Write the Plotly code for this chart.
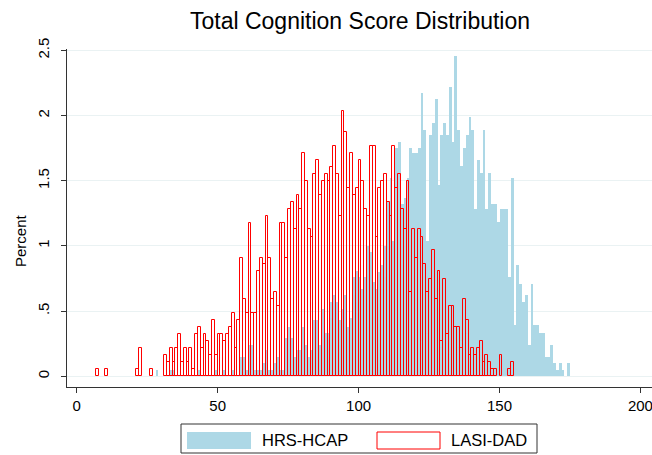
import plotly.graph_objects as go

# ---------------- data (percent of sample per 1-point score bin) ----------------
hrs_scores = [28, 33, 34, 43, 49, 52, 55,
              58, 59, 60, 61, 62, 63, 64, 65, 66, 67, 68, 69, 70, 71, 72, 73, 74, 75, 76, 77,
              78, 79, 80, 81, 82, 83, 84, 85, 86, 87, 88, 89, 90, 91, 92, 93, 94, 95, 96, 97,
              98, 99, 100, 101, 102, 103, 104, 105, 106, 107, 108, 109, 110, 111, 112, 113,
              114, 115, 116, 117, 118, 119, 120, 121, 122, 123, 124, 125, 126, 127, 128, 129,
              130, 131, 132, 133, 134, 135, 136, 137, 138, 139, 140, 141, 142, 143, 144, 145,
              146, 147, 148, 149, 150, 151, 152, 153, 154, 155, 156, 157, 158, 159, 160, 161,
              162, 163, 164, 165, 166, 167, 168, 169, 170, 171, 172, 174]
hrs_pct = [0.05, 0.05, 0.05, 0.05, 0.05, 0.05, 0.05,
           0.15, 0.15, 0.05, 0.24, 0.24, 0.05, 0.05, 0.05, 0.10, 0.20, 0.05, 0.05, 0.10, 0.15, 0.05, 0.05, 0.29, 0.38, 0.29, 0.15,
           0.20, 0.20, 0.38, 0.24, 0.15, 0.20, 0.43, 0.43, 0.24, 0.52, 0.33, 0.33, 0.57, 0.62, 0.57, 0.43, 0.52, 0.62, 0.38, 0.45,
           0.76, 0.81, 0.76, 0.67, 0.76, 1.00, 0.95, 0.72, 0.67, 0.80, 0.85, 1.00, 1.34, 1.52, 1.04, 1.75,
           1.80, 1.32, 1.37, 1.52, 1.75, 1.71, 1.71, 1.75, 2.17, 1.89, 1.04, 1.85, 1.94, 2.13, 1.47, 1.85,
           1.94, 1.85, 2.22, 1.80, 2.46, 1.89, 1.61, 1.75, 1.85, 1.99, 1.89, 1.28, 1.66, 1.56, 1.89, 1.28,
           1.56, 1.32, 1.32, 1.18, 1.28, 1.28, 1.28, 0.76, 1.52, 0.39, 0.85, 0.71, 0.57, 0.62, 0.24, 0.71,
           0.39, 0.39, 0.33, 0.33, 0.15, 0.15, 0.24, 0.10, 0.05, 0.10, 0.05, 0.10]

lasi_scores = [7, 10, 21, 22, 26,
               31, 32, 33, 34, 35, 36, 37, 38, 39, 40, 41, 42, 43, 44, 45, 46, 47, 48, 49, 50,
               51, 52, 53, 54, 55, 56, 57, 58, 59, 60, 61, 62, 63, 64, 65, 66, 67, 68, 69, 70,
               71, 72, 73, 74, 75, 76, 77, 78, 79, 80, 81, 82, 83, 84, 85, 86, 87, 88, 89, 90,
               91, 92, 93, 94, 95, 96, 97, 98, 99, 100, 101, 102, 103, 104, 105, 106, 107, 108,
               109, 110, 111, 112, 113, 114, 115, 116, 117, 118, 119, 120, 121, 122, 123, 124,
               125, 126, 127, 128, 129, 130, 131, 132, 133, 134, 135, 136, 137, 138, 139, 140,
               141, 142, 143, 144, 145, 146, 147, 148, 150, 153, 154]
lasi_pct = [0.054, 0.054, 0.054, 0.214, 0.054,
            0.161, 0.107, 0.214, 0.107, 0.214, 0.322, 0.107, 0.214, 0.107, 0.214, 0.054, 0.322, 0.375, 0.214, 0.322, 0.268, 0.161, 0.429, 0.161, 0.322,
            0.322, 0.268, 0.322, 0.375, 0.482, 0.214, 0.429, 0.911, 0.590, 0.482, 1.179, 0.482, 0.482, 0.804, 0.911, 0.858, 1.233, 0.911, 0.590, 0.643,
            0.536, 1.179, 1.179, 0.911, 1.286, 1.340, 1.126, 1.394, 1.286, 1.715, 1.501, 1.126, 1.072, 1.554, 1.662, 1.394, 1.501, 1.554, 1.501, 1.608,
            1.769, 1.554, 1.233, 2.037, 1.876, 1.447, 1.715, 1.394, 1.447, 1.662, 1.501, 1.286, 1.233, 1.769, 1.769, 1.072, 1.447, 1.501,
            1.554, 1.340, 1.233, 1.769, 1.447, 1.554, 1.286, 1.126, 1.501, 0.643, 1.126, 0.911, 1.126, 1.072, 0.858, 0.643,
            0.750, 0.965, 0.590, 0.804, 0.268, 0.750, 0.322, 0.536, 0.536, 0.375, 0.375, 0.214, 0.590, 0.429, 0.161, 0.214,
            0.161, 0.214, 0.268, 0.107, 0.161, 0.107, 0.054, 0.054, 0.161, 0.054, 0.107]

series_names = ["HRS-HCAP", "LASI-DAD"]
x_ticks = [0, 50, 100, 150, 200]
y_ticks = [0, 0.5, 1, 1.5, 2, 2.5]
y_tick_labels = ["0", ".5", "1", "1.5", "2", "2.5"]

# ---------------- figure ----------------
FONT = "Liberation Sans, Arial, Helvetica, sans-serif"
BLUE = "#ADD8E6"
RED = "#FF0000"
AX = "#333333"

fig = go.Figure()
fig.add_trace(go.Bar(x=hrs_scores, y=hrs_pct, width=1, offset=0, name=series_names[0],
                     marker=dict(color=BLUE, line=dict(width=0)), showlegend=False))
fig.add_trace(go.Bar(x=lasi_scores, y=lasi_pct, width=1, offset=0, name=series_names[1],
                     marker=dict(color="rgba(255,255,255,0)", line=dict(color=RED, width=1)),
                     showlegend=False))

W, H = 652, 455
L, R, T, B = 67, 0, 49, 68
pw, ph = W - L - R, H - T - B


def px(x):
    return (x - L) / pw


def py(y):
    return (H - B - y) / ph


fig.update_layout(
    width=W, height=H, autosize=False,
    margin=dict(l=L, r=R, t=T, b=B, pad=0, autoexpand=False),
    barmode="overlay", bargap=0,
    plot_bgcolor="white", paper_bgcolor="white",
    font=dict(family=FONT, color="black", size=15),
    xaxis=dict(range=[-3.45, 204.1], tickvals=x_ticks, ticks="outside", ticklen=5,
               tickcolor=AX, tickwidth=1.2, showline=True, linecolor=AX, linewidth=1.2,
               showgrid=False, zeroline=False, tickfont=dict(size=15), automargin=False,
               ticklabeloverflow="allow"),
    yaxis=dict(range=[-0.082, 2.51], tickvals=y_ticks, ticktext=y_tick_labels,
               tickangle=-90, ticks="outside", ticklen=5, tickcolor=AX, tickwidth=1.2,
               showline=True, linecolor=AX, linewidth=1.2, showgrid=True,
               gridcolor="#EAF2F3", gridwidth=1.2, zeroline=False,
               tickfont=dict(size=15), ticklabelstandoff=6, automargin=False,
               ticklabeloverflow="allow"),
)

annotations = [
    dict(text="Total Cognition Score Distribution", xref="paper", yref="paper",
         x=0.5, y=py(21), xanchor="center", yanchor="middle", showarrow=False,
         font=dict(size=23, family=FONT, color="black")),
    dict(text="Percent", xref="paper", yref="paper", x=px(20), y=py(241),
         xanchor="center", yanchor="middle", textangle=-90, showarrow=False,
         font=dict(size=15, family=FONT, color="black")),
    dict(text=series_names[0], xref="paper", yref="paper", x=px(260), y=py(440),
         xanchor="left", yanchor="middle", showarrow=False,
         font=dict(size=16.5, family=FONT, color="black")),
    dict(text=series_names[1], xref="paper", yref="paper", x=px(449), y=py(440),
         xanchor="left", yanchor="middle", showarrow=False,
         font=dict(size=16.5, family=FONT, color="black")),
]
shapes = [
    dict(type="rect", xref="paper", yref="paper", x0=px(181), x1=px(537),
         y0=py(453), y1=py(424), line=dict(color=AX, width=1), fillcolor="white", layer="above"),
    dict(type="rect", xref="paper", yref="paper", x0=px(187), x1=px(251),
         y0=py(449), y1=py(432), line=dict(color=BLUE, width=0), fillcolor=BLUE, layer="above"),
    dict(type="rect", xref="paper", yref="paper", x0=px(377), x1=px(440),
         y0=py(449), y1=py(432), line=dict(color=RED, width=1), fillcolor="rgba(0,0,0,0)",
         layer="above"),
]
fig.update_layout(annotations=annotations, shapes=shapes)

fig.write_html("out.html", config={"displayModeBar": False},
               post_script="document.body.style.margin='0';document.body.style.overflow='hidden';")
